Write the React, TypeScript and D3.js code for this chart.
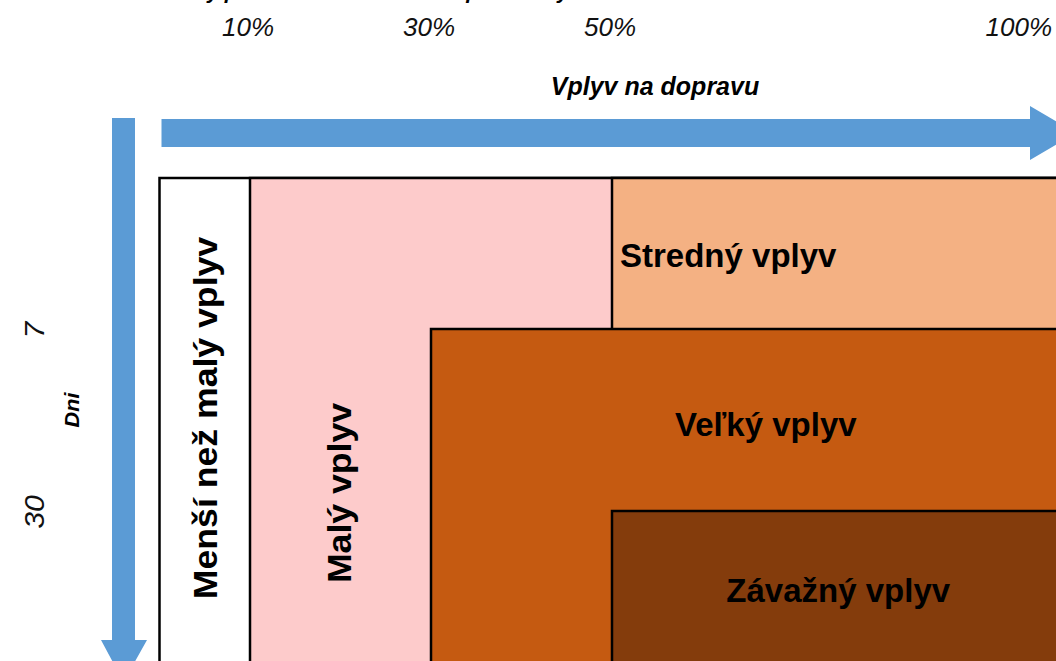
import React, { useRef, useEffect } from "react";
import * as d3 from "d3";

// thresholds on the two axes
const percentTicks = [10, 30, 50, 100];
const dayTicks = [7, 30];

// impact zones, drawn in order (later ones cover the earlier ones)
const zoneNames = ["Menší než malý vplyv", "Malý vplyv", "Stredný vplyv", "Veľký vplyv", "Závažný vplyv"];
const zoneFromPercent = [0, 10, 50, 30, 50];
const zoneFromDay = [0, 0, 0, 7, 30];
const zoneColors = ["#ffffff", "#fdcbcb", "#f4b183", "#c55a11", "#843c0c"];

const titleText = "Percentuálny podiel zníženia rozsahu prevádzky";
const xTitle = "Vplyv na dopravu";
const yTitle = "Dni";

export default function App() {
    const d3Container = useRef<HTMLDivElement | null>(null);

    useEffect(() => {
        if (d3Container.current) {
            d3.select(d3Container.current).selectAll("*").remove();
            draw();
        }
    }, []);

    const draw = () => {
        const width = 1056;
        const height = 661;
        const font = "'Liberation Sans', Arial, sans-serif";
        const blue = "#5b9bd5";

        const x = d3.scaleLinear().domain([0, 100]).range([159.5, 1064.5]);
        const y = d3.scaleLinear().domain([0, 7, 30, 60]).range([178, 329, 511, 720]);

        const svg = d3.select(d3Container.current)
            .append("svg")
            .attr("width", width)
            .attr("height", height)
            .attr("viewBox", [0, 0, width, height])
            .style("position", "absolute")
            .style("left", 0)
            .style("top", 0)
            .style("background", "#fff");

        // title, mostly above the visible area (cut off in the original too)
        svg.append("text")
            .attr("x", 87)
            .attr("y", -1)
            .attr("font-family", font)
            .attr("font-weight", "bold")
            .attr("font-style", "italic")
            .attr("font-size", 21)
            .text(titleText);

        // percent labels
        svg.append("g")
            .attr("font-family", font)
            .attr("font-style", "italic")
            .attr("font-size", 26)
            .attr("fill", "#111")
            .selectAll("text")
            .data(percentTicks)
            .join("text")
                .attr("x", d => d === 100 ? width - 4 : x(d) - 2)
                .attr("y", 36)
                .attr("text-anchor", d => d === 100 ? "end" : "middle")
                .text(d => d + "%");

        svg.append("text")
            .attr("x", 655)
            .attr("y", 95)
            .attr("text-anchor", "middle")
            .attr("font-family", font)
            .attr("font-weight", "bold")
            .attr("font-style", "italic")
            .attr("font-size", 25)
            .text(xTitle);

        // horizontal arrow
        const hy0 = 119, hy1 = 147, hx0 = x(0) + 2, hxHead = 1030;
        svg.append("path")
            .attr("fill", blue)
            .attr("d", `M${hx0},${hy0}H${hxHead}V${hy0 - 13}L${hxHead + 46},${(hy0 + hy1) / 2}L${hxHead},${hy1 + 13}V${hy1}H${hx0}Z`);

        // vertical arrow
        const vx0 = 112, vx1 = 135, vy0 = 118, vyHead = 640;
        svg.append("path")
            .attr("fill", blue)
            .attr("d", `M${vx0},${vy0}H${vx1}V${vyHead}H${vx1 + 12}L${(vx0 + vx1) / 2},${vyHead + 42}L${vx0 - 11},${vyHead}H${vx0}Z`);

        // day labels
        svg.append("g")
            .attr("font-family", font)
            .attr("font-style", "italic")
            .attr("font-size", 28)
            .attr("fill", "#111")
            .selectAll("text")
            .data(dayTicks)
            .join("text")
                .attr("transform", d => `translate(44,${y(d) + 1}) scale(1,1.08) rotate(-90)`)
                .attr("text-anchor", "middle")
                .text(d => d);

        svg.append("text")
            .attr("transform", `translate(79,410) scale(1,1.08) rotate(-90)`)
            .attr("text-anchor", "middle")
            .attr("font-family", font)
            .attr("font-weight", "bold")
            .attr("font-style", "italic")
            .attr("font-size", 20)
            .text(yTitle);

        // zones
        const zones = zoneNames.map((name, i) => ({
            name, p: zoneFromPercent[i], day: zoneFromDay[i], color: zoneColors[i]
        }));

        svg.append("g")
            .selectAll("rect")
            .data(zones)
            .join("rect")
                .attr("x", d => x(d.p))
                .attr("y", d => y(d.day))
                .attr("width", d => x(100) + 40 - x(d.p))
                .attr("height", d => y(60) - y(d.day))
                .attr("fill", d => d.color)
                .attr("stroke", "#000")
                .attr("stroke-width", 2.5);

        const labels = svg.append("g")
            .attr("font-family", font)
            .attr("font-weight", "bold")
            .attr("font-size", 33)
            .attr("fill", "#000");

        // rotated labels
        labels.append("text")
            .attr("transform", `translate(${x(5) + 12},${418}) scale(1,1.08) rotate(-90)`)
            .attr("text-anchor", "middle")
            .text(zones[0].name);
        labels.append("text")
            .attr("transform", `translate(${x(20) + 10},${493}) scale(1,1.08) rotate(-90)`)
            .attr("text-anchor", "middle")
            .text(zones[1].name);

        // horizontal labels
        labels.append("text")
            .attr("x", x(50) + 8)
            .attr("y", (y(0) + y(7)) / 2 + 13)
            .text(zones[2].name);
        labels.append("text")
            .attr("x", x(67))
            .attr("y", (y(7) + y(30)) / 2 + 16)
            .attr("text-anchor", "middle")
            .text(zones[3].name);
        labels.append("text")
            .attr("x", x(75))
            .attr("y", 602)
            .attr("text-anchor", "middle")
            .text(zones[4].name);
    };

    return (
        <div
            className="d3-container"
            ref={d3Container}
        ></div>
    );
}
